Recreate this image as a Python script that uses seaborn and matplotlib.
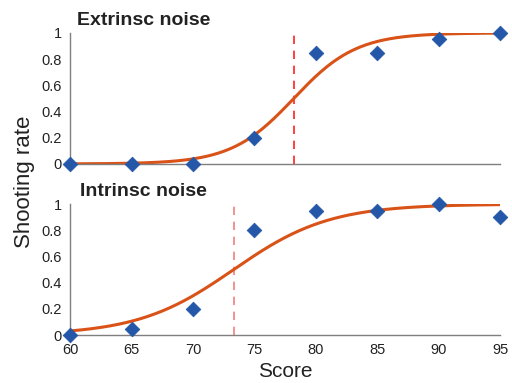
#!/usr/bin/env python3
import numpy as np
import pandas as pd
import matplotlib
matplotlib.use("Agg")
import matplotlib.pyplot as plt
import seaborn as sns

# Observed shooting rates per score
scores = [60, 65, 70, 75, 80, 85, 90, 95]
extrinsic_rate = [0.0, 0.0, 0.0, 0.2, 0.85, 0.85, 0.95, 1.0]
intrinsic_rate = [0.0, 0.05, 0.2, 0.8, 0.95, 0.95, 1.0, 0.9]

# Fitted logistic parameters (threshold, width)
extrinsic_fit = (78.2, 2.55)
intrinsic_fit = (73.3, 3.9)

panel_titles = ["Extrinsc noise", "Intrinsc noise"]
y_ticks = [0, 0.2, 0.4, 0.6, 0.8, 1]
y_labels = ["0", "0.2", "0.4", "0.6", "0.8", "1"]
x_ticks = [60, 65, 70, 75, 80, 85, 90, 95]

sns.set_style("white")
plt.rcParams["font.family"] = ["Liberation Sans", "DejaVu Sans"]

fig = plt.figure(figsize=(5.12, 3.83), dpi=100)
ax_top = fig.add_axes([0.137, 0.572, 0.840, 0.342])
ax_bot = fig.add_axes([0.137, 0.125, 0.840, 0.342])

grid = np.linspace(60, 95, 300)
panels = [
    (ax_top, extrinsic_rate, extrinsic_fit, panel_titles[0], "#ff2020"),
    (ax_bot, intrinsic_rate, intrinsic_fit, panel_titles[1], "#f07f7f"),
]

for ax, rate, (thr, width), title, dash_col in panels:
    curve = pd.DataFrame({"x": grid, "y": 1 / (1 + np.exp(-(grid - thr) / width))})
    pts = pd.DataFrame({"score": scores, "rate": rate})

    ax.plot([thr, thr], [0, 1], ls=(0, (5, 4)), color=dash_col, lw=1.2, zorder=1)
    sns.lineplot(data=curve, x="x", y="y", ax=ax, color="#d95319", lw=2.2, zorder=2)
    sns.scatterplot(data=pts, x="score", y="rate", ax=ax, marker="D", s=55,
                    color="#2457a8", edgecolor="#2457a8", zorder=3, clip_on=False)

    ax.set_xlim(60, 95)
    ax.set_ylim(0, 1)
    ax.set_yticks(y_ticks)
    ax.set_yticklabels(y_labels)
    ax.set_xticks(x_ticks)
    ax.set_xlabel("")
    ax.set_ylabel("")
    for side in ["top", "right"]:
        ax.spines[side].set_visible(False)
    for side in ["left", "bottom"]:
        ax.spines[side].set_color("#7f7f7f")
        ax.spines[side].set_linewidth(1.0)
    ax.tick_params(direction="in", length=4, width=0.8, color="#555555",
                   labelsize=10.5, labelcolor="#222222", pad=6)
    ax.text(0.17, 1.03, title, transform=ax.transAxes, ha="center", va="bottom",
            fontsize=14, fontweight="bold", color="#222222")

ax_top.set_xticklabels([])
ax_bot.set_xticklabels([str(v) for v in x_ticks])
ax_bot.set_xlabel("Score", fontsize=15, color="#222222", labelpad=3)
fig.text(0.047, 0.525, "Shooting rate", rotation=90, ha="center", va="center",
         fontsize=16, color="#222222")

fig.savefig("out.png", dpi=100)
